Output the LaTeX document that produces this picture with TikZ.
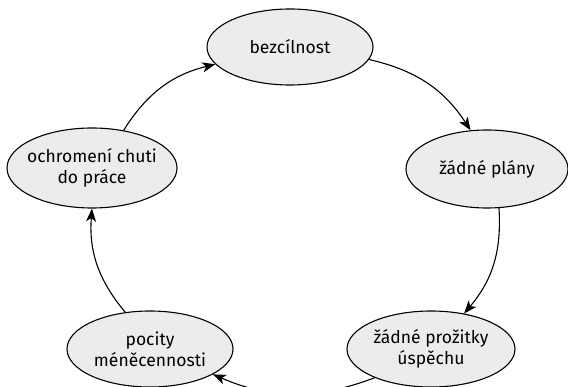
\documentclass[tikz,border=0pt]{standalone}
\usepackage{fontspec}
\setmainfont{Fira Sans}
\usetikzlibrary{shapes.geometric,arrows.meta}
\definecolor{nodefill}{HTML}{ECECEC}
\begin{document}
\begin{tikzpicture}[x=1pt,y=-1pt,
  stage/.style={draw=black, line width=1.1pt, fill=nodefill, ellipse,
    inner xsep=-14pt, inner ysep=-6pt, minimum width=166pt, minimum height=76pt,
    align=center, font=\fontsize{17.5}{21}\selectfont},
  flow/.style={line width=1.1pt, -{Stealth[length=13pt,width=10pt,inset=3.5pt]}}]
\useasboundingbox (0,0) rectangle (568,387);
\node[stage] (a) at (290,47) {bezcílnost};
\node[stage, minimum width=162pt, minimum height=78pt] (b) at (487,169) {žádné plány};
\node[stage, minimum width=168pt] (c) at (431,349) {žádné prožitky\\úspěchu};
\node[stage] (d) at (150,349) {pocity\\méněcennosti};
\node[stage, minimum width=170pt, minimum height=80pt] (e) at (92,168) {ochromení chuti\\do práce};
\draw[flow] (a.-9) to[bend left=22] (b.113);
\draw[flow] (b.-73) to[bend left=22] (c.47);
\draw[flow] (c.207) to[bend left=22] (d.-22);
\draw[flow] (d.124) to[bend left=22] (e.-90);
\draw[flow] (e.50) to[bend left=22] (a.193);
\end{tikzpicture}
\end{document}
